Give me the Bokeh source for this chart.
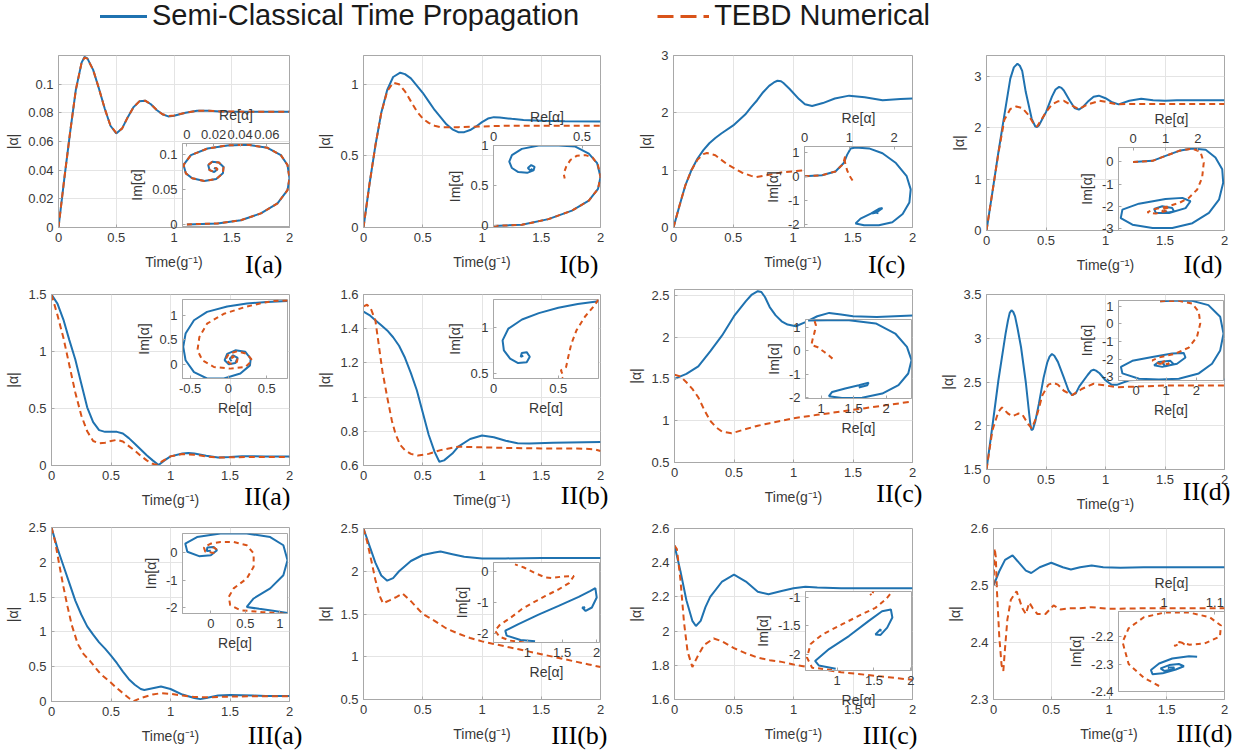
from bokeh.plotting import figure
from bokeh.models import Range1d, FixedTicker, PrintfTickFormatter, Legend, LegendItem
from bokeh.layouts import column
from bokeh.embed import file_html
from bokeh.resources import INLINE
from bokeh.core.properties import value

# ------------------------------------------------------------------ data
PANEL_NAMES = ["I(a)", "I(b)", "I(c)", "I(d)", "II(a)", "II(b)", "II(c)", "II(d)",
               "III(a)", "III(b)", "III(c)", "III(d)"]
SERIES_NAMES = ["Semi-Classical Time Propagation", "TEBD Numerical"]
T_RANGE = (0, 2)
T_TICKS = [0, 0.5, 1, 1.5, 2]

# main panels: (time, |alpha|) ; insets: (Re, Im)
IA_SC = [(0, 0), (0.05, 0.034), (0.1, 0.066), (0.15, 0.096), (0.2, 0.115), (0.225, 0.119), (0.25, 0.118),
         (0.3, 0.11), (0.35, 0.097), (0.4, 0.083), (0.45, 0.071), (0.5, 0.0656), (0.55, 0.069), (0.6, 0.077),
         (0.65, 0.084), (0.7, 0.088), (0.75, 0.0885), (0.8, 0.086), (0.85, 0.082), (0.9, 0.079), (0.95, 0.0775),
         (1.0, 0.078), (1.1, 0.08), (1.2, 0.0815), (1.3, 0.0815), (1.4, 0.081), (1.6, 0.0808), (1.8, 0.0808),
         (2.0, 0.0808)]
IA_TEBD = [(0, 0), (0.05, 0.034), (0.1, 0.066), (0.15, 0.096), (0.2, 0.115), (0.225, 0.1185), (0.25, 0.1178),
           (0.3, 0.11), (0.35, 0.097), (0.4, 0.083), (0.45, 0.071), (0.5, 0.066), (0.55, 0.069), (0.6, 0.077),
           (0.65, 0.084), (0.7, 0.088), (0.75, 0.0885), (0.8, 0.086), (0.85, 0.082), (0.9, 0.079), (0.95, 0.0778),
           (1.0, 0.0782), (1.1, 0.08), (1.2, 0.0815), (1.3, 0.0815), (1.4, 0.081), (1.6, 0.0808), (1.8, 0.0808),
           (2.0, 0.0808)]
IA_IN_SC = [(0, 0), (0.023, 0.0014), (0.0405, 0.006), (0.0555, 0.0157), (0.068, 0.03), (0.0755, 0.049),
            (0.077, 0.066), (0.0755, 0.085), (0.0705, 0.099), (0.0605, 0.1095), (0.0455, 0.114), (0.0305, 0.113),
            (0.0155, 0.1086), (0.003, 0.099), (-0.0025, 0.085), (-0.0008, 0.073), (0.004, 0.066), (0.013, 0.062),
            (0.022, 0.065), (0.027, 0.073), (0.0275, 0.082), (0.024, 0.0886), (0.019, 0.0895), (0.016, 0.085),
            (0.017, 0.0776), (0.0205, 0.075), (0.023, 0.079), (0.0215, 0.081), (0.0205, 0.079)]
IA_IN_TEBD = list(IA_IN_SC)

IB_SC = [(0, 0), (0.05, 0.3), (0.1, 0.57), (0.15, 0.8), (0.2, 0.96), (0.25, 1.05), (0.31, 1.08), (0.35, 1.07),
         (0.4, 1.04), (0.45, 0.99), (0.5, 0.94), (0.55, 0.88), (0.6, 0.82), (0.65, 0.77), (0.7, 0.72),
         (0.75, 0.685), (0.8, 0.665), (0.85, 0.665), (0.9, 0.68), (0.95, 0.705), (1.0, 0.735), (1.05, 0.76),
         (1.1, 0.77), (1.15, 0.768), (1.25, 0.758), (1.35, 0.75), (1.5, 0.745), (1.7, 0.742), (2.0, 0.74)]
IB_TEBD = [(0, 0), (0.05, 0.3), (0.1, 0.57), (0.15, 0.8), (0.2, 0.95), (0.25, 1.01), (0.3, 1.0), (0.35, 0.95),
           (0.4, 0.88), (0.45, 0.81), (0.5, 0.76), (0.55, 0.73), (0.6, 0.71), (0.65, 0.7), (0.7, 0.7), (0.8, 0.7),
           (1.0, 0.705), (1.2, 0.71), (1.5, 0.71), (2.0, 0.71)]
IB_IN_SC = [(0, 0), (0.16, 0.013), (0.31, 0.084), (0.443, 0.19), (0.538, 0.315), (0.59, 0.46), (0.604, 0.61),
            (0.585, 0.78), (0.538, 0.9), (0.462, 0.987), (0.368, 1.0), (0.255, 1.0), (0.16, 0.958), (0.104, 0.88),
            (0.089, 0.8), (0.104, 0.72), (0.14, 0.67), (0.19, 0.66), (0.226, 0.69), (0.232, 0.735), (0.213, 0.756),
            (0.194, 0.72), (0.208, 0.69), (0.22, 0.71)]
IB_IN_TEBD = [(0, 0), (0.16, 0.013), (0.31, 0.084), (0.443, 0.19), (0.538, 0.315), (0.59, 0.46), (0.604, 0.61),
              (0.59, 0.756), (0.56, 0.85), (0.519, 0.88), (0.472, 0.874), (0.434, 0.82), (0.41, 0.735),
              (0.396, 0.65), (0.402, 0.59)]

IC_SC = [(0, 0), (0.05, 0.38), (0.1, 0.74), (0.15, 1.0), (0.2, 1.2), (0.25, 1.35), (0.3, 1.47), (0.35, 1.56),
         (0.4, 1.64), (0.5, 1.78), (0.6, 1.97), (0.65, 2.1), (0.7, 2.22), (0.75, 2.36), (0.8, 2.47), (0.84, 2.53),
         (0.87, 2.56), (0.9, 2.55), (0.92, 2.52), (0.97, 2.42), (1.05, 2.24), (1.1, 2.15), (1.16, 2.12),
         (1.25, 2.17), (1.35, 2.25), (1.47, 2.3), (1.6, 2.27), (1.75, 2.22), (1.9, 2.24), (2.0, 2.25)]
IC_TEBD = [(0, 0), (0.05, 0.38), (0.1, 0.74), (0.15, 1.0), (0.2, 1.18), (0.25, 1.28), (0.28, 1.3), (0.35, 1.26),
           (0.45, 1.1), (0.57, 0.96), (0.65, 0.9), (0.69, 0.88), (0.8, 0.92), (0.9, 0.96), (1.0, 0.98),
           (1.1, 1.0), (1.3, 1.0), (1.6, 1.0), (2.0, 1.0)]
IC_IN_SC = [(0, 0), (0.39, 0.04), (0.69, 0.2), (0.876, 0.55), (0.95, 0.89), (1.03, 1.16), (1.14, 1.2),
            (1.44, 1.16), (1.74, 0.96), (2.04, 0.55), (2.28, 0.0), (2.37, -0.55), (2.34, -1.1), (2.19, -1.58),
            (1.96, -1.92), (1.66, -2.05), (1.33, -2.05), (1.14, -1.97), (1.25, -1.77), (1.48, -1.56),
            (1.66, -1.36), (1.74, -1.33), (1.66, -1.44), (1.51, -1.56), (1.6, -1.52), (1.65, -1.55)]
IC_IN_TEBD = [(0, 0), (0.39, 0.04), (0.69, 0.2), (0.86, 0.5), (0.91, 0.85), (0.9, 0.6), (0.95, 0.25),
              (1.01, 0.0), (1.08, -0.2)]

ID_SC = [(0, 0), (0.05, 0.75), (0.1, 1.52), (0.15, 2.24), (0.2, 2.95), (0.23, 3.17), (0.26, 3.24), (0.28, 3.2),
         (0.3, 3.1), (0.33, 2.69), (0.38, 2.17), (0.41, 2.02), (0.425, 2.01), (0.44, 2.04), (0.5, 2.3),
         (0.55, 2.6), (0.58, 2.74), (0.61, 2.79), (0.63, 2.77), (0.65, 2.72), (0.7, 2.52), (0.74, 2.38),
         (0.776, 2.35), (0.81, 2.4), (0.85, 2.5), (0.9, 2.6), (0.944, 2.62), (1.0, 2.57), (1.05, 2.5),
         (1.11, 2.45), (1.2, 2.52), (1.3, 2.56), (1.4, 2.53), (1.5, 2.52), (1.6, 2.53), (1.8, 2.53), (2.0, 2.53)]
ID_TEBD = [(0, 0), (0.05, 0.75), (0.1, 1.5), (0.15, 2.15), (0.2, 2.36), (0.25, 2.41), (0.3, 2.38), (0.35, 2.25),
           (0.4, 2.06), (0.425, 2.02), (0.5, 2.3), (0.55, 2.45), (0.6, 2.51), (0.65, 2.52), (0.7, 2.45),
           (0.776, 2.36), (0.85, 2.45), (0.95, 2.52), (1.0, 2.5), (1.1, 2.45), (1.2, 2.46), (1.4, 2.46),
           (1.6, 2.46), (2.0, 2.46)]
ID_IN_SC = [(0, 0), (0.6, 0.05), (1.0, 0.27), (1.42, 0.5), (1.83, 0.6), (2.24, 0.55), (2.54, 0.2), (2.75, -0.33),
            (2.78, -0.94), (2.65, -1.7), (2.34, -2.3), (1.83, -2.76), (1.21, -2.98), (0.6, -2.98), (-0.02, -2.83),
            (-0.38, -2.53), (-0.33, -2.15), (0.18, -1.88), (1.0, -1.67), (1.52, -1.62), (1.77, -1.77),
            (1.62, -2.08), (1.11, -2.3), (0.7, -2.3), (0.65, -2.12), (0.9, -2.0), (1.21, -2.08), (1.26, -2.23),
            (1.0, -2.3), (0.95, -2.2), (1.05, -2.25)]
ID_IN_TEBD = [(0, 0), (0.6, 0.05), (1.0, 0.27), (1.42, 0.5), (1.83, 0.6), (2.08, 0.45), (2.18, -0.03),
              (2.13, -0.71), (1.98, -1.24), (1.72, -1.62), (1.42, -1.85), (1.0, -2.03), (0.6, -2.15),
              (0.44, -2.27), (0.7, -2.33), (1.1, -2.18), (1.06, -2.08), (0.85, -2.15), (0.95, -2.24), (1.0, -2.22)]

IIA_SC = [(0, 1.5), (0.05, 1.42), (0.1, 1.28), (0.15, 1.1), (0.2, 0.93), (0.25, 0.72), (0.3, 0.51),
          (0.35, 0.38), (0.4, 0.31), (0.45, 0.295), (0.5, 0.295), (0.55, 0.295), (0.6, 0.28), (0.65, 0.24),
          (0.7, 0.19), (0.75, 0.14), (0.8, 0.09), (0.85, 0.045), (0.9, 0.005), (0.95, 0.045), (1.0, 0.08),
          (1.1, 0.105), (1.15, 0.11), (1.2, 0.105), (1.3, 0.085), (1.4, 0.07), (1.5, 0.075), (1.6, 0.082),
          (1.8, 0.08), (2.0, 0.08)]
IIA_TEBD = [(0, 1.5), (0.05, 1.32), (0.1, 1.12), (0.15, 0.88), (0.2, 0.64), (0.25, 0.44), (0.3, 0.3),
            (0.35, 0.215), (0.4, 0.195), (0.45, 0.2), (0.5, 0.215), (0.55, 0.225), (0.6, 0.21), (0.65, 0.17),
            (0.7, 0.13), (0.75, 0.085), (0.8, 0.045), (0.85, 0.015), (0.88, 0.005), (0.95, 0.05), (1.0, 0.08),
            (1.1, 0.1), (1.2, 0.095), (1.3, 0.08), (1.4, 0.07), (1.5, 0.072), (1.7, 0.075), (2.0, 0.075)]
IIA_IN_SC = [(0.77, 1.29), (0.5, 1.27), (0.24, 1.24), (-0.017, 1.18), (-0.28, 1.07), (-0.45, 0.9), (-0.56, 0.63),
             (-0.59, 0.36), (-0.56, 0.09), (-0.45, -0.15), (-0.28, -0.28), (-0.06, -0.28), (0.155, -0.18),
             (0.28, -0.014), (0.29, 0.12), (0.22, 0.26), (0.09, 0.29), (-0.017, 0.22), (-0.05, 0.09),
             (0.004, 0.007), (0.09, 0.034), (0.12, 0.14), (0.06, 0.19), (0.017, 0.12), (0.04, 0.07)]
IIA_IN_TEBD = [(0.77, 1.3), (0.59, 1.29), (0.41, 1.24), (0.2, 1.16), (-0.06, 1.03), (-0.28, 0.83), (-0.38, 0.56),
               (-0.405, 0.29), (-0.34, 0.088), (-0.19, -0.047), (0.026, -0.08), (0.22, -0.047), (0.31, 0.088),
               (0.24, 0.22), (0.11, 0.27), (0.004, 0.22), (-0.04, 0.1), (0.026, 0.02), (0.11, 0.054),
               (0.12, 0.14), (0.047, 0.17), (0.05, 0.1)]

IIB_SC = [(0, 1.5), (0.05, 1.48), (0.1, 1.45), (0.15, 1.42), (0.2, 1.39), (0.25, 1.35), (0.3, 1.3), (0.35, 1.23),
          (0.4, 1.14), (0.45, 1.04), (0.5, 0.91), (0.55, 0.78), (0.6, 0.68), (0.64, 0.622), (0.68, 0.63),
          (0.75, 0.67), (0.8, 0.71), (0.9, 0.755), (1.0, 0.775), (1.1, 0.765), (1.2, 0.745), (1.3, 0.73),
          (1.4, 0.728), (1.6, 0.733), (2.0, 0.738)]
IIB_TEBD = [(0, 1.53), (0.03, 1.54), (0.06, 1.52), (0.1, 1.45), (0.13, 1.3), (0.16, 1.15), (0.2, 1.0),
            (0.24, 0.86), (0.27, 0.785), (0.31, 0.72), (0.35, 0.69), (0.4, 0.668), (0.46, 0.658), (0.55, 0.668),
            (0.65, 0.69), (0.8, 0.71), (1.0, 0.706), (1.2, 0.703), (1.5, 0.7), (1.8, 0.7), (1.95, 0.695),
            (2.0, 0.685)]
IIB_IN_SC = [(0.81, 1.29), (0.65, 1.26), (0.5, 1.22), (0.35, 1.16), (0.22, 1.09), (0.115, 0.99), (0.07, 0.86),
             (0.08, 0.75), (0.128, 0.66), (0.19, 0.61), (0.256, 0.62), (0.28, 0.68), (0.256, 0.73), (0.218, 0.72),
             (0.21, 0.68), (0.23, 0.69)]
IIB_IN_TEBD = [(0.81, 1.31), (0.77, 1.23), (0.705, 1.12), (0.64, 0.97), (0.6, 0.82), (0.577, 0.68), (0.56, 0.566),
               (0.52, 0.53), (0.54, 0.46), (0.53, 0.44)]

IIC_SC = [(0, 1.5), (0.1, 1.56), (0.2, 1.65), (0.3, 1.83), (0.4, 2.02), (0.5, 2.25), (0.6, 2.43), (0.65, 2.51),
          (0.7, 2.55), (0.73, 2.54), (0.76, 2.48), (0.8, 2.36), (0.85, 2.26), (0.9, 2.19), (0.95, 2.15),
          (1.02, 2.13), (1.1, 2.18), (1.2, 2.25), (1.3, 2.29), (1.4, 2.27), (1.5, 2.25), (1.7, 2.24), (2.0, 2.26)]
IIC_TEBD = [(0, 1.55), (0.05, 1.53), (0.1, 1.46), (0.15, 1.38), (0.2, 1.28), (0.25, 1.13), (0.3, 1.0),
            (0.35, 0.92), (0.4, 0.87), (0.48, 0.85), (0.6, 0.9), (0.7, 0.94), (0.8, 0.97), (0.9, 1.0), (1.0, 1.03),
            (1.2, 1.07), (1.4, 1.11), (1.6, 1.15), (1.8, 1.19), (2.0, 1.23)]
IIC_IN_SC = [(0.8, 1.3), (1.1, 1.31), (1.43, 1.31), (1.84, 1.17), (2.14, 0.74), (2.32, 0.17), (2.39, -0.4),
             (2.34, -0.97), (2.19, -1.47), (1.94, -1.83), (1.63, -2.01), (1.32, -2.02), (1.12, -1.94),
             (1.17, -1.76), (1.37, -1.61), (1.58, -1.47), (1.73, -1.36), (1.71, -1.47), (1.58, -1.57), (1.6, -1.55)]
IIC_IN_TEBD = [(0.9, 1.27), (0.92, 1.1), (0.9, 0.8), (0.87, 0.5), (0.85, 0.25), (0.95, 0.15), (1.05, -0.05),
               (1.12, -0.2), (1.19, -0.37)]

IID_SC = [(0, 1.5), (0.05, 2.0), (0.1, 2.52), (0.16, 3.05), (0.18, 3.2), (0.195, 3.29), (0.21, 3.32),
          (0.225, 3.3), (0.24, 3.25), (0.26, 3.12), (0.29, 2.9), (0.33, 2.5), (0.36, 2.12), (0.37, 2.0),
          (0.378, 1.95), (0.39, 1.96), (0.41, 2.05), (0.44, 2.25), (0.48, 2.55), (0.51, 2.72), (0.53, 2.79),
          (0.55, 2.82), (0.57, 2.8), (0.6, 2.73), (0.65, 2.55), (0.69, 2.4), (0.72, 2.35), (0.75, 2.37),
          (0.78, 2.45), (0.85, 2.58), (0.88, 2.63), (0.9, 2.64), (0.92, 2.63), (0.95, 2.6), (1.0, 2.52),
          (1.05, 2.47), (1.1, 2.47), (1.2, 2.52), (1.4, 2.53), (2.0, 2.53)]
IID_TEBD = [(0, 1.5), (0.05, 1.95), (0.1, 2.16), (0.13, 2.21), (0.18, 2.14), (0.22, 2.11), (0.27, 2.14),
            (0.3, 2.13), (0.35, 2.02), (0.38, 1.97), (0.42, 2.1), (0.47, 2.35), (0.52, 2.47), (0.56, 2.49),
            (0.6, 2.47), (0.65, 2.4), (0.72, 2.35), (0.8, 2.42), (0.9, 2.48), (1.0, 2.46), (1.1, 2.44),
            (1.3, 2.45), (1.5, 2.46), (2.0, 2.46)]
IID_IN_SC = [(0.8, 1.28), (1.2, 1.3), (1.86, 1.3), (2.4, 1.06), (2.79, 0.4), (2.9, -0.55), (2.79, -1.5),
             (2.52, -2.25), (2.08, -2.8), (1.42, -3.1), (0.76, -3.15), (0.1, -3.1), (-0.45, -2.8), (-0.5, -2.43),
             (-0.12, -2.09), (0.54, -1.87), (1.2, -1.68), (1.58, -1.64), (1.64, -1.9), (1.36, -2.25),
             (0.87, -2.43), (0.6, -2.34), (0.76, -2.15), (1.14, -2.09), (1.25, -2.28), (0.98, -2.4),
             (0.89, -2.25), (0.95, -2.3)]
IID_IN_TEBD = [(0.8, 1.28), (1.42, 1.3), (1.86, 1.15), (2.08, 0.68), (2.13, 0.02), (2.02, -0.74), (1.75, -1.34),
               (1.31, -1.68), (0.76, -1.9), (0.54, -2.06), (0.76, -2.25), (1.09, -2.28), (1.03, -2.09),
               (0.87, -2.15), (0.9, -2.27)]

IIIA_SC = [(0, 2.5), (0.05, 2.2), (0.1, 1.95), (0.15, 1.7), (0.2, 1.45), (0.25, 1.25), (0.3, 1.08), (0.35, 0.96),
           (0.4, 0.85), (0.45, 0.76), (0.5, 0.66), (0.55, 0.55), (0.6, 0.43), (0.65, 0.32), (0.7, 0.24),
           (0.75, 0.18), (0.78, 0.165), (0.85, 0.19), (0.92, 0.215), (1.0, 0.18), (1.1, 0.1), (1.2, 0.05),
           (1.25, 0.034), (1.3, 0.05), (1.4, 0.085), (1.5, 0.095), (1.6, 0.09), (1.7, 0.085), (1.8, 0.08),
           (2.0, 0.08)]
IIIA_TEBD = [(0, 2.5), (0.03, 2.3), (0.065, 1.97), (0.1, 1.65), (0.134, 1.37), (0.17, 1.1), (0.22, 0.83),
             (0.27, 0.68), (0.33, 0.57), (0.41, 0.4), (0.5, 0.27), (0.55, 0.19), (0.6, 0.12), (0.65, 0.05),
             (0.69, 0.005), (0.75, 0.05), (0.85, 0.1), (0.92, 0.12), (1.0, 0.11), (1.1, 0.085), (1.2, 0.065),
             (1.3, 0.06), (1.5, 0.07), (1.7, 0.075), (2.0, 0.075)]
IIIA_IN_SC = [(1.11, -2.2), (0.9, -2.12), (0.7, -2.05), (0.52, -1.98), (0.62, -1.67), (0.86, -1.3), (1.05, -0.82),
              (1.11, -0.27), (1.05, 0.28), (0.86, 0.58), (0.52, 0.71), (0.14, 0.71), (-0.2, 0.58), (-0.37, 0.34),
              (-0.34, 0.04), (-0.17, -0.12), (0.0, -0.085), (0.09, 0.1), (0.04, 0.22), (-0.05, 0.2),
              (-0.06, 0.07), (0.0, 0.08)]
IIIA_IN_TEBD = [(1.05, -2.22), (0.75, -2.17), (0.43, -2.1), (0.28, -1.91), (0.26, -1.61), (0.33, -1.3),
                (0.52, -0.94), (0.62, -0.51), (0.62, -0.02), (0.52, 0.28), (0.33, 0.4), (0.14, 0.4), (0.0, 0.34),
                (-0.1, 0.2), (-0.08, 0.04), (0.04, 0.0), (0.09, 0.12), (0.04, 0.2), (0.03, 0.08)]

IIIB_SC = [(0, 2.5), (0.05, 2.3), (0.1, 2.1), (0.15, 1.95), (0.2, 1.89), (0.25, 1.92), (0.3, 2.0), (0.4, 2.12),
           (0.5, 2.19), (0.6, 2.22), (0.65, 2.23), (0.75, 2.2), (0.85, 2.17), (1.0, 2.15), (1.2, 2.15),
           (1.5, 2.155), (1.8, 2.155), (2.0, 2.155)]
IIIB_TEBD = [(0, 2.5), (0.03, 2.35), (0.07, 2.1), (0.1, 1.9), (0.14, 1.7), (0.165, 1.625), (0.22, 1.66),
             (0.28, 1.7), (0.33, 1.74), (0.4, 1.65), (0.5, 1.5), (0.6, 1.42), (0.7, 1.33), (0.8, 1.27),
             (0.9, 1.22), (1.0, 1.18), (1.1, 1.15), (1.2, 1.12), (1.3, 1.09), (1.4, 1.06), (1.5, 1.03),
             (1.6, 1.0), (1.7, 0.97), (1.8, 0.94), (1.9, 0.91), (2.0, 0.88)]
IIIB_IN_SC = [(1.11, -2.24), (0.9, -2.2), (0.7, -2.06), (0.68, -1.9), (0.87, -1.69), (1.16, -1.39), (1.45, -1.11),
              (1.74, -0.82), (1.91, -0.63), (1.98, -0.54), (2.0, -0.84), (1.93, -1.16), (1.84, -1.27),
              (1.79, -1.16), (1.83, -1.15), (1.8, -1.2)]
IIIB_IN_TEBD = [(0.95, -2.28), (0.75, -2.22), (0.6, -2.1), (0.53, -1.9), (0.6, -1.72), (0.75, -1.5),
                (0.92, -1.21), (1.1, -0.98), (1.26, -0.79), (1.45, -0.58), (1.6, -0.38), (1.67, -0.15),
                (1.5, -0.17), (1.35, -0.22), (1.26, -0.2), (1.1, -0.05), (0.95, 0.12), (0.82, 0.22)]

IIIC_SC = [(0, 2.5), (0.05, 2.35), (0.1, 2.18), (0.15, 2.06), (0.18, 2.03), (0.22, 2.06), (0.26, 2.14),
           (0.3, 2.2), (0.4, 2.29), (0.5, 2.33), (0.6, 2.29), (0.7, 2.23), (0.79, 2.215), (0.9, 2.235),
           (1.0, 2.25), (1.1, 2.26), (1.2, 2.255), (1.4, 2.25), (1.6, 2.25), (2.0, 2.25)]
IIIC_TEBD = [(0, 2.5), (0.02, 2.48), (0.05, 2.3), (0.08, 2.05), (0.11, 1.88), (0.15, 1.79), (0.2, 1.86),
             (0.25, 1.92), (0.33, 1.957), (0.4, 1.94), (0.5, 1.9), (0.6, 1.87), (0.7, 1.845), (0.8, 1.83),
             (0.9, 1.82), (1.0, 1.805), (1.2, 1.78), (1.4, 1.76), (1.6, 1.745), (1.8, 1.73), (2.0, 1.715)]
IIIC_IN_SC = [(0.98, -2.26), (0.75, -2.2), (0.7, -2.12), (0.89, -1.91), (1.16, -1.68), (1.43, -1.41),
              (1.61, -1.24), (1.73, -1.21), (1.75, -1.35), (1.68, -1.53), (1.59, -1.66), (1.52, -1.65),
              (1.59, -1.56), (1.59, -1.6)]
IIIC_IN_TEBD = [(0.93, -2.28), (0.66, -2.24), (0.59, -2.06), (0.64, -1.82), (0.8, -1.65), (1.07, -1.47),
                (1.34, -1.29), (1.52, -1.18), (1.66, -1.03), (1.75, -0.89), (1.78, -0.8), (1.6, -0.75),
                (1.5, -0.85), (1.47, -0.97), (1.45, -0.93)]

IIID_SC = [(0, 2.5), (0.05, 2.525), (0.1, 2.545), (0.165, 2.553), (0.22, 2.54), (0.28, 2.526), (0.327, 2.522),
           (0.4, 2.532), (0.5, 2.54), (0.6, 2.532), (0.67, 2.528), (0.75, 2.532), (0.85, 2.535), (0.95, 2.532),
           (1.1, 2.531), (1.3, 2.532), (2.0, 2.532)]
IIID_TEBD = [(0, 2.5), (0.01, 2.565), (0.02, 2.55), (0.03, 2.49), (0.05, 2.41), (0.07, 2.36), (0.085, 2.35),
             (0.1, 2.39), (0.12, 2.44), (0.15, 2.475), (0.2, 2.49), (0.25, 2.46), (0.28, 2.45), (0.31, 2.47),
             (0.34, 2.46), (0.38, 2.45), (0.45, 2.45), (0.52, 2.465), (0.58, 2.458), (0.65, 2.46), (0.75, 2.46),
             (0.85, 2.462), (1.0, 2.459), (1.3, 2.46), (1.6, 2.46), (2.0, 2.46)]
IIID_IN_SC = [(1.065, -2.274), (1.049, -2.272), (1.016, -2.28), (0.99, -2.298), (0.974, -2.322), (0.977, -2.337),
              (0.997, -2.334), (1.023, -2.32), (1.039, -2.308), (1.029, -2.3), (1.01, -2.304), (0.993, -2.316),
              (1.0, -2.325), (1.016, -2.32), (1.02, -2.313), (1.008, -2.313), (1.01, -2.316)]
IIID_IN_TEBD = [(0.99, -2.38), (0.96, -2.35), (0.93, -2.3), (0.918, -2.22), (0.93, -2.17), (0.96, -2.13),
                (1.0, -2.113), (1.05, -2.113), (1.09, -2.13), (1.112, -2.16), (1.11, -2.2), (1.08, -2.225),
                (1.05, -2.23), (1.03, -2.22), (1.02, -2.235), (1.035, -2.222), (1.04, -2.228), (1.03, -2.226)]

MAIN_SC = [IA_SC, IB_SC, IC_SC, ID_SC, IIA_SC, IIB_SC, IIC_SC, IID_SC, IIIA_SC, IIIB_SC, IIIC_SC, IIID_SC]
MAIN_TEBD = [IA_TEBD, IB_TEBD, IC_TEBD, ID_TEBD, IIA_TEBD, IIB_TEBD, IIC_TEBD, IID_TEBD,
             IIIA_TEBD, IIIB_TEBD, IIIC_TEBD, IIID_TEBD]
INSET_SC = [IA_IN_SC, IB_IN_SC, IC_IN_SC, ID_IN_SC, IIA_IN_SC, IIB_IN_SC, IIC_IN_SC, IID_IN_SC,
            IIIA_IN_SC, IIIB_IN_SC, IIIC_IN_SC, IIID_IN_SC]
INSET_TEBD = [IA_IN_TEBD, IB_IN_TEBD, IC_IN_TEBD, ID_IN_TEBD, IIA_IN_TEBD, IIB_IN_TEBD, IIC_IN_TEBD,
              IID_IN_TEBD, IIIA_IN_TEBD, IIIB_IN_TEBD, IIIC_IN_TEBD, IIID_IN_TEBD]

MAIN_YLIM = [(0, 0.12), (0, 1.2), (0, 3), (0, 3.4), (0, 1.5), (0.6, 1.6), (0.5, 2.57), (1.5, 3.5),
             (0, 2.5), (0.5, 2.5), (1.6, 2.6), (2.3, 2.6)]
MAIN_YTICKS = [[0, 0.02, 0.04, 0.06, 0.08, 0.1], [0, 0.5, 1], [0, 1, 2, 3], [0, 1, 2, 3], [0, 0.5, 1, 1.5],
               [0.6, 0.8, 1, 1.2, 1.4, 1.6], [0.5, 1, 1.5, 2, 2.5], [1.5, 2, 2.5, 3, 3.5],
               [0, 0.5, 1, 1.5, 2, 2.5], [0.5, 1, 1.5, 2, 2.5], [1.6, 1.8, 2, 2.2, 2.4, 2.6], [2.3, 2.4, 2.5, 2.6]]
INSET_XLIM = [(-0.0033, 0.077), (0, 0.604), (0, 2.41), (-0.45, 2.82), (-0.6, 0.77), (0, 0.81), (0.76, 2.39),
              (-0.58, 2.9), (-0.41, 1.11), (0.51, 2.04), (0.57, 2.01), (0.91, 1.119)]
INSET_YLIM = [(-0.003, 0.1157), (-0.02, 1.0), (-2.14, 1.24), (-3.09, 0.65), (-0.28, 1.32), (0.44, 1.31),
              (-2.04, 1.34), (-3.2, 1.32), (-2.22, 0.71), (-2.28, 0.28), (-2.29, -0.89), (-2.4, -2.109)]
INSET_XTICKS = [[0, 0.02, 0.04, 0.06], [0, 0.5], [0, 1, 2], [0, 1, 2], [-0.5, 0, 0.5], [0, 0.5], [1, 1.5, 2],
                [0, 1, 2], [0, 0.5, 1], [1, 1.5, 2], [1, 1.5, 2], [1, 1.1]]
INSET_YTICKS = [[0, 0.05, 0.1], [0, 0.5, 1], [-2, -1, 0, 1], [-3, -2, -1, 0], [0, 0.5, 1], [0.5, 1],
                [-2, -1, 0, 1], [-3, -2, -1, 0, 1], [-2, -1, 0], [-2, -1, 0], [-2, -1.5, -1], [-2.4, -2.3, -2.2]]

# ------------------------------------------------------------------ layout (pixels)
W, H = 1244, 751
BL, BR = 100, 12          # identical left/right borders for every figure (column aligns them)
MAIN_BOX = [(58, 55, 289, 227), (363, 55, 600, 227), (673, 55, 912, 227), (986, 55, 1224, 230),
            (51, 294, 289, 465), (363, 294, 600, 465), (674, 289, 912, 462), (986, 294, 1224, 469),
            (51, 527, 289, 701), (363, 528, 600, 699), (674, 528, 912, 699), (993, 528, 1224, 699)]
INSET_BOX = [(182, 143, 289, 226), (493, 145, 600, 227), (804, 146, 912, 227), (1118, 147, 1224, 230),
             (182, 299, 287, 378), (493, 299, 598, 378), (805, 319, 911, 398), (1118, 300, 1223, 380),
             (182, 533, 287, 613), (493, 562, 599, 642), (805, 591, 911, 670), (1118, 611, 1224, 691)]
INSET_XAXIS = ["above", "above", "above", "above", "below", "below", "below", "below",
               "below", "below", "below", "above"]
LABEL_X = [282, 598, 905, 1222, 290, 608, 922, 1230, 302, 607, 917, 1232]
LABEL_Y = [264, 264, 264, 264, 496, 495, 493, 491, 735, 735, 735, 733]   # vertical centres
LEGEND_X, LEGEND_Y = 95, 719

BLUE = "#1f72b0"
ORANGE = "#d95319"
BOX = "#a8a8a8"
GRID = "#e4e4e4"
TXT = "#383838"
SANS = "Liberation Sans"


def xs(pts):
    return [p[0] for p in pts]


def ys(pts):
    return [p[1] for p in pts]


def style_axes(p):
    for ax in p.axis:
        ax.axis_line_color = BOX
        ax.major_tick_line_color = BOX
        ax.major_tick_in = 3
        ax.major_tick_out = 0
        ax.minor_tick_line_color = None
        ax.major_label_text_font = SANS
        ax.major_label_text_font_size = "13px"
        ax.major_label_text_color = TXT
        ax.major_label_standoff = 5
        ax.axis_label_text_font = SANS
        ax.axis_label_text_font_size = "14px"
        ax.axis_label_text_font_style = "normal"
        ax.axis_label_text_color = TXT
        ax.axis_label_standoff = 4


def main_fig(i):
    l, t, r, b = MAIN_BOX[i]
    MT, MB = 12, 50
    p = figure(frame_width=r - l, frame_height=b - t, x_range=Range1d(*T_RANGE), y_range=Range1d(*MAIN_YLIM[i]),
               min_border_left=BL, min_border_right=BR, min_border_top=MT, min_border_bottom=MB,
               output_backend="svg", toolbar_location=None, border_fill_color=None,
               background_fill_color="white", outline_line_color=BOX, outline_line_width=1)
    p.styles = {"position": "absolute", "left": f"{l - BL}px", "top": f"{t - MT}px"}
    p.xaxis.ticker = FixedTicker(ticks=T_TICKS)
    p.yaxis.ticker = FixedTicker(ticks=MAIN_YTICKS[i])
    p.xaxis.formatter = PrintfTickFormatter(format="%g")
    p.yaxis.formatter = PrintfTickFormatter(format="%g")
    p.xaxis.axis_label = "Time(g⁻¹)"
    p.yaxis.axis_label = "|α|"
    p.xgrid.ticker = FixedTicker(ticks=T_TICKS)
    p.ygrid.ticker = FixedTicker(ticks=MAIN_YTICKS[i])
    p.grid.grid_line_color = GRID
    style_axes(p)
    p.xaxis.axis_label_standoff = 9
    p.line(xs(MAIN_SC[i]), ys(MAIN_SC[i]), color=BLUE, line_width=2)
    p.line(xs(MAIN_TEBD[i]), ys(MAIN_TEBD[i]), color=ORANGE, line_width=2, line_dash="6 4")
    return p


def inset_fig(i):
    l, t, r, b = INSET_BOX[i]
    loc = INSET_XAXIS[i]
    MT = 50 if loc == "above" else 14
    MB = 50 if loc == "below" else 14
    p = figure(frame_width=r - l, frame_height=b - t, x_range=Range1d(*INSET_XLIM[i]),
               y_range=Range1d(*INSET_YLIM[i]), x_axis_location=loc,
               min_border_left=BL, min_border_right=BR, min_border_top=MT, min_border_bottom=MB,
               output_backend="svg", toolbar_location=None, border_fill_color=None,
               background_fill_color="white", outline_line_color=BOX, outline_line_width=1)
    p.styles = {"position": "absolute", "left": f"{l - BL}px", "top": f"{t - MT}px"}
    p.xaxis.ticker = FixedTicker(ticks=INSET_XTICKS[i])
    p.yaxis.ticker = FixedTicker(ticks=INSET_YTICKS[i])
    p.xaxis.formatter = PrintfTickFormatter(format="%g")
    p.yaxis.formatter = PrintfTickFormatter(format="%g")
    p.xaxis.axis_label = "Re[α]"
    p.yaxis.axis_label = "Im[α]"
    p.grid.visible = False
    style_axes(p)
    p.line(xs(INSET_SC[i]), ys(INSET_SC[i]), color=BLUE, line_width=2)
    p.line(xs(INSET_TEBD[i]), ys(INSET_TEBD[i]), color=ORANGE, line_width=2, line_dash="5 4")
    return p


# background canvas with the legend and the panel tags: its frame maps data units 1:1 to window pixels
bg = figure(width=W, height=H, x_range=Range1d(BL, W - BR), y_range=Range1d(H, 0), title=None,
            x_axis_location=None, y_axis_location=None,
            min_border_left=BL, min_border_right=BR, min_border_top=0, min_border_bottom=0,
            outline_line_color=None, toolbar_location=None, output_backend="svg",
            border_fill_color=None, background_fill_color=None)
bg.grid.visible = False
bg.styles = {"position": "absolute", "left": "0px", "top": "0px"}
bg.text(x=LABEL_X, y=LABEL_Y, text=PANEL_NAMES, text_font=value("Liberation Serif"),
        text_font_size="26px", text_align="right", text_baseline="middle", text_color="black")
# legend proxies (single point, nothing drawn in the plot area)
r_sc = bg.line(x=[-50], y=[-50], color=BLUE, line_width=3)
r_tebd = bg.line(x=[-50], y=[-50], color=ORANGE, line_width=3, line_dash="16 7")
legend = Legend(items=[LegendItem(label=SERIES_NAMES[0], renderers=[r_sc]),
                       LegendItem(label=SERIES_NAMES[1], renderers=[r_tebd])],
                orientation="horizontal", location=(LEGEND_X - BL, LEGEND_Y), glyph_width=52, glyph_height=30,
                label_text_font=SANS, label_text_font_size="29px", label_text_color="#1a1a1a",
                label_standoff=5, spacing=78, padding=0, margin=0,
                border_line_color=None, background_fill_alpha=0)
bg.add_layout(legend)

mains = [main_fig(i) for i in range(12)]
insets = [inset_fig(i) for i in range(12)]

root = column(bg, *mains, *insets, width=W, height=H)
open("out.html", "w").write(file_html(root, INLINE))
